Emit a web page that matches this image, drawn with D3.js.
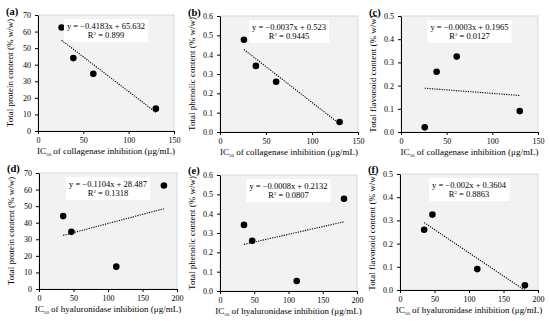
<!DOCTYPE html>
<html>
<head>
<meta charset="utf-8">
<script src="https://cdn.jsdelivr.net/npm/d3@7"></script>
<style>
  body { margin: 0; background: #fff; }
  svg { display: block; font-family: "Liberation Serif", "DejaVu Serif", serif; }
</style>
</head>
<body>
<div class="wrap"></div>
<script>
// sample values (same 4 samples in every panel)
var collagenaseIC50 = [26, 39, 61, 130];
var hyaluronidaseIC50 = [181, 35, 47, 112];
var proteinContent = [62.5, 44, 34.5, 13.5];
var phenolicContent = [0.477, 0.342, 0.26, 0.052];
var flavonoidContent = [0.02, 0.26, 0.325, 0.09];

// trend lines, as printed in the boxes (line d/e drawn rising)
var trendSlopes = [-0.4183, -0.0037, -0.0003, 0.1104, 0.0008, -0.002];
var trendIntercepts = [65.632, 0.523, 0.1965, 28.487, 0.2132, 0.3604];
var equationLabels = ["y = −0.4183x + 65.632", "y = −0.0037x + 0.523", "y = −0.0003x + 0.1965",
                      "y = −0.1104x + 28.487", "y = −0.0008x + 0.2132", "y = −0.002x + 0.3604"];
var r2Labels = ["0.899", "0.9445", "0.0127", "0.1318", "0.0807", "0.8863"];
var panelLetters = ["(a)", "(b)", "(c)", "(d)", "(e)", "(f)"];

var collagenaseTicks = [0, 50, 100, 150];
var hyaluronidaseTicks = [0, 50, 100, 150, 200];
var proteinTicks = [0, 10, 20, 30, 40, 50, 60, 70];
var phenolicTicks = [0, 0.1, 0.2, 0.3, 0.4, 0.5, 0.6];
var flavonoidTicks = [0, 0.1, 0.2, 0.3, 0.4, 0.5];

var yTitles = ["Total protein content (% w/w)", "Total phenolic content (% w/w)", "Total flavonoid content (% w/w)"];
var xEnzymes = ["collagenase", "hyaluronidase"];

var svg = d3.select(".wrap").append("svg")
    .attr("width", 550)
    .attr("height", 321);

// plot boxes [left, right, top, bottom]
var boxes = [
    [38, 174, 15, 131], [220, 358, 16, 132], [401, 538, 16, 132],
    [39, 177, 173, 289], [220, 357, 175, 291], [400, 538, 174, 290]
];

var yData = [proteinContent, phenolicContent, flavonoidContent];
var yTicks = [proteinTicks, phenolicTicks, flavonoidTicks];
var yFormats = [d3.format("d"), d3.format(".1f"), d3.format(".1f")];

function drawPanel(i) {
    var row = Math.floor(i / 3), col = i % 3,
        b = boxes[i],
        xs = row === 0 ? collagenaseIC50 : hyaluronidaseIC50,
        xt = row === 0 ? collagenaseTicks : hyaluronidaseTicks,
        ys = yData[col],
        yt = yTicks[col];

    var xScale = d3.scaleLinear().domain([0, d3.max(xt)]).range([b[0], b[1]]);
    var yScale = d3.scaleLinear().domain([0, d3.max(yt)]).range([b[3], b[2]]);

    var g = svg.append("g");

    g.append("rect")
        .attr("x", b[0]).attr("y", b[2])
        .attr("width", b[1] - b[0]).attr("height", b[3] - b[2])
        .attr("fill", "#f2f2f2")
        .attr("stroke", "#cfcfcf")
        .attr("stroke-width", 0.8);

    var xAxis = d3.axisBottom(xScale).tickValues(xt).tickSizeInner(3).tickSizeOuter(0).tickPadding(3);
    var yAxis = d3.axisLeft(yScale).tickValues(yt).tickSizeInner(3).tickSizeOuter(0).tickPadding(4)
        .tickFormat(yFormats[col]);

    var gx = g.append("g")
        .attr("transform", "translate(0," + b[3] + ")")
        .call(xAxis);
    var gy = g.append("g")
        .attr("transform", "translate(" + b[0] + ",0)")
        .call(yAxis);
    [gx, gy].forEach(function (a) {
        a.selectAll("text").style("font-family", "Liberation Serif").style("font-size", "8px").attr("fill", "#000");
        a.selectAll("line,path").attr("stroke", "#000").attr("stroke-width", 1);
    });

    // trend line over the data range
    var ext = d3.extent(xs);
    var line = d3.line()
        .x(function (d) { return xScale(d); })
        .y(function (d) { return yScale(trendSlopes[i] * d + trendIntercepts[i]); });
    g.append("path")
        .attr("d", line(ext))
        .attr("fill", "none")
        .attr("stroke", "#000")
        .attr("stroke-width", 1.1)
        .attr("stroke-dasharray", "1.2,1.2");

    g.selectAll(".pt")
        .data(xs)
        .enter()
        .append("circle")
        .attr("cx", function (d) { return xScale(d); })
        .attr("cy", function (d, k) { return yScale(ys[k]); })
        .attr("r", 3.3)
        .attr("fill", "#000");

    // equation box
    var cx = (b[0] + b[1]) / 2;
    var box = g.append("rect").attr("fill", "#fff");
    var t1 = g.append("text")
        .attr("x", cx).attr("y", b[2] + 14)
        .attr("text-anchor", "middle")
        .style("font-size", "8.5px")
        .text(equationLabels[i]);
    var t2 = g.append("text")
        .attr("x", cx).attr("y", b[2] + 23)
        .attr("text-anchor", "middle")
        .style("font-size", "8.5px");
    t2.append("tspan").text("R");
    t2.append("tspan").attr("dy", -3).style("font-size", "5px").text("2");
    t2.append("tspan").attr("dy", 3).text(" = " + r2Labels[i]);
    var bb = t1.node().getBBox();
    box.attr("x", bb.x - 3).attr("y", b[2] + 4)
        .attr("width", bb.width + 6).attr("height", 23);

    // titles
    var xt1 = g.append("text")
        .attr("x", (b[0] + b[1]) / 2)
        .attr("y", b[3] + 23)
        .attr("text-anchor", "middle")
        .style("font-size", "9px");
    xt1.append("tspan").text("IC");
    xt1.append("tspan").attr("dy", 2).style("font-size", "5px").text("50");
    xt1.append("tspan").attr("dy", -2).text(" of " + xEnzymes[row] + " inhibition (μg/mL)");

    g.append("text")
        .attr("transform", "translate(" + (b[0] - 25) + "," + ((b[2] + b[3]) / 2) + ") rotate(-90)")
        .attr("text-anchor", "middle")
        .style("font-size", "9px")
        .text(yTitles[col]);

    g.append("text")
        .attr("x", b[0] - 32)
        .attr("y", b[2] + (row === 0 ? 0 : -1))
        .style("font-size", "10.5px")
        .style("font-weight", "bold")
        .text(panelLetters[i]);
}

for (var i = 0; i < 6; i++) {
    drawPanel(i);
}
</script>
</body>
</html>
